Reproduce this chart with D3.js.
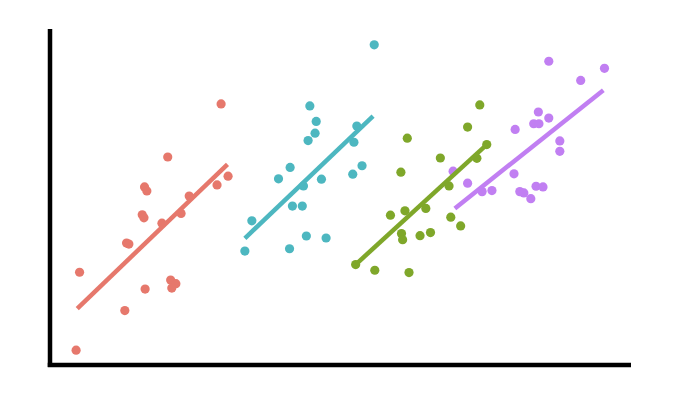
<!DOCTYPE html>
<html>
<head>
<meta charset="utf-8">
<script src="https://cdn.jsdelivr.net/npm/d3@7"></script>
<style>
  html, body { margin: 0; padding: 0; background: #fff; }
  svg { display: block; }
</style>
</head>
<body>
<svg id="chart" width="674" height="402"></svg>
<script>
// ---- data ----
const groups = ["A", "B", "C", "D"];
const colors = ["#E6786C", "#4DB7C0", "#7FA72A", "#C17FF2"];

const xA = [29.5,20.3,30.7,28.8,16.3,16.7,24.0,22.6,15.9,16.2,19.3,13.2,13.6,5.1,20.8,21.7,21.0,16.4,12.9,4.5];
const yA = [77.7,61.9,56.2,53.6,53.0,51.8,50.3,45.1,44.7,43.8,42.2,36.3,36.0,27.6,25.3,24.2,22.9,22.6,16.2,4.4];

const xB = [55.9,44.8,45.9,45.7,44.5,52.9,52.4,41.4,39.4,53.8,52.2,46.8,43.7,41.8,43.5,34.8,44.2,47.6,41.3,33.6];
const yB = [95.3,77.1,72.5,69.0,66.8,71.1,66.3,58.8,55.4,59.3,56.8,55.3,53.3,47.3,47.3,42.9,38.4,37.8,34.6,33.9];

const xC = [74.1,72.0,61.6,75.3,67.3,73.6,60.5,68.8,64.8,61.2,58.7,69.1,70.8,60.6,60.8,65.6,63.8,52.7,56.0,61.9];
const yC = [77.4,70.8,67.5,65.6,61.6,61.5,57.4,53.3,46.6,45.9,44.6,44.0,41.4,39.1,37.3,39.4,38.5,29.9,28.2,27.5];

const xD = [86.0,95.6,91.5,84.2,83.4,84.3,86.0,80.2,87.9,87.9,69.5,80.0,72.0,74.5,76.2,81.0,81.7,83.8,85.0,82.9];
const yD = [90.4,88.3,84.7,75.3,71.8,71.8,73.5,70.1,66.7,63.6,57.7,56.9,54.1,51.6,51.9,51.6,51.2,53.2,53.0,49.5];

// fitted line endpoints per group
const fitX0 = [4.7, 33.6, 52.7, 69.8];
const fitY0 = [16.8, 37.7, 29.9, 46.6];
const fitX1 = [30.6, 55.7, 75.3, 95.4];
const fitY1 = [59.7, 74.1, 65.6, 81.8];

const xs = [xA, xB, xC, xD];
const ys = [yA, yB, yC, yD];

// ---- layout ----
const svg = d3.select("#chart");
const mLeft = 50, mRight = 630, mTop = 29, mBottom = 365;
const x = d3.scaleLinear().domain([0, 100]).range([mLeft, mRight]);
const y = d3.scaleLinear().domain([0, 100]).range([mBottom, mTop]);

// points
groups.forEach((g, i) => {
  const pts = xs[i].map((v, j) => ({ x: v, y: ys[i][j] }));
  svg.append("g")
    .selectAll("circle")
    .data(pts)
    .enter()
    .append("circle")
    .attr("cx", d => x(d.x))
    .attr("cy", d => y(d.y))
    .attr("r", 4.6)
    .attr("fill", colors[i]);
});

// fitted lines
const line = d3.line().x(d => x(d[0])).y(d => y(d[1]));
groups.forEach((g, i) => {
  svg.append("path")
    .attr("d", line([[fitX0[i], fitY0[i]], [fitX1[i], fitY1[i]]]))
    .attr("stroke", colors[i])
    .attr("stroke-width", 4.5)
    .attr("fill", "none");
});

// axes (no ticks)
const xAxis = d3.axisBottom(x).tickValues([]).tickSizeOuter(0);
const yAxis = d3.axisLeft(y).tickValues([]).tickSizeOuter(0);
const gx = svg.append("g").attr("transform", `translate(0,${mBottom})`).call(xAxis);
const gy = svg.append("g").attr("transform", `translate(${mLeft},0)`).call(yAxis);
gx.select(".domain").attr("stroke", "#000").attr("stroke-width", 4.5)
  .attr("d", `M${mLeft - 2.25},0H${mRight + 1}`);
gy.select(".domain").attr("stroke", "#000").attr("stroke-width", 4.5)
  .attr("d", `M0,${mTop}V${mBottom + 2}`);
</script>
</body>
</html>
